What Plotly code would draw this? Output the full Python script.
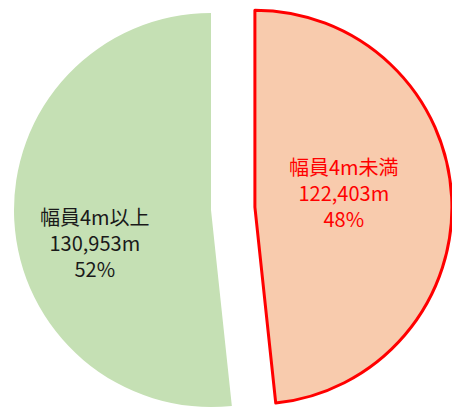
import plotly.graph_objects as go

# ---- data (order: clockwise from 12 o'clock) ----
labels = ["幅員4m未満", "幅員4m以上"]
values = [122403, 130953]
unit = "m"

# ---- style ----
fill_colors = ["#F8CBAD", "#C5E0B4"]
text_colors = ["#FF0000", "#1a1a1a"]
border_colors = ["#FF0000", "rgba(0,0,0,0)"]
border_widths = [3, 0]
W, H = 452, 408
R = 197                                   # pie radius in px
centers = [(254.9, 207.2), (211, 210)]    # first slice drawn exploded
label_pos = [(344, 192), (95, 242)]       # label centres in px
FONT = "Noto Sans CJK JP"
TRANSPARENT = "rgba(0,0,0,0)"

total = sum(values)

def domain(cx, cy):
    return dict(x=[(cx - R) / W, (cx + R) / W],
                y=[(H - (cy + R)) / H, (H - (cy - R)) / H])

fig = go.Figure()
for i in range(len(values)):
    n = len(values)
    colors = [fill_colors[j] if j == i else TRANSPARENT for j in range(n)]
    lw = [border_widths[j] if j == i else 0 for j in range(n)]
    lc = [border_colors[j] if j == i else TRANSPARENT for j in range(n)]
    fig.add_trace(go.Pie(
        labels=labels, values=values, sort=False, direction="clockwise",
        rotation=0, textinfo="none", hoverinfo="skip",
        marker=dict(colors=colors, line=dict(color=lc, width=lw)),
        domain=domain(*centers[i]), showlegend=False,
    ))

annotations = []
for i, (lab, v) in enumerate(zip(labels, values)):
    x, y = label_pos[i]
    annotations.append(dict(
        x=x / W, y=(H - y) / H, xref="paper", yref="paper",
        xanchor="center", yanchor="middle",
        text=f"{lab}<br>{v:,}{unit}<br>{v / total:.0%}",
        showarrow=False, align="center",
        font=dict(family=FONT, size=20, color=text_colors[i]),
    ))

fig.update_layout(
    width=W, height=H, margin=dict(l=0, r=0, t=0, b=0),
    paper_bgcolor="white", plot_bgcolor="white",
    annotations=annotations, showlegend=False,
)
fig.write_html("out.html", config={"displayModeBar": False},
               post_script="document.body.style.margin='0';document.body.style.padding='0';")
